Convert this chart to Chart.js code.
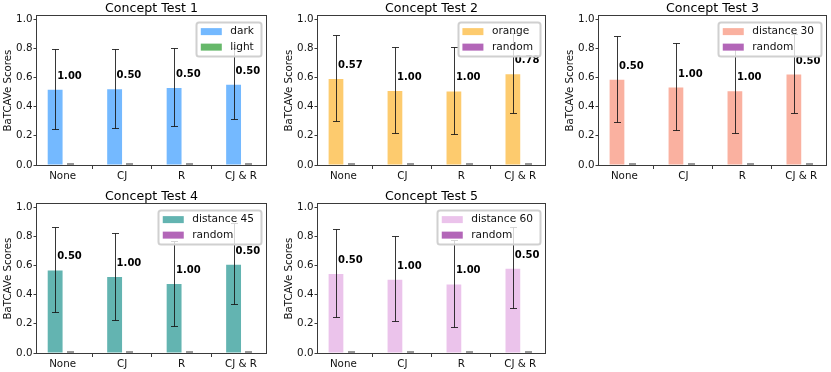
<!DOCTYPE html>
<html>
<head>
<meta charset="utf-8">
<script src="https://cdn.jsdelivr.net/npm/chart.js@4.4.1/dist/chart.umd.min.js"></script>
<style>
body{margin:0;background:#fff;width:831px;height:372px;overflow:hidden;position:relative;}
.panel{position:absolute;}
.panel canvas{display:block;}
</style>
</head>
<body>
<div class="panel" style="left:0px;top:0px"><canvas id="c1" width="270" height="187"></canvas></div>
<div class="panel" style="left:281px;top:0px"><canvas id="c2" width="268" height="187"></canvas></div>
<div class="panel" style="left:562px;top:0px"><canvas id="c3" width="268" height="187"></canvas></div>
<div class="panel" style="left:0px;top:188px"><canvas id="c4" width="270" height="187"></canvas></div>
<div class="panel" style="left:281px;top:188px"><canvas id="c5" width="268" height="187"></canvas></div>
<script>
// categories and ticks
var cats = ['None', 'CJ', 'R', 'CJ & R'];
var yTicks = [0, 0.2, 0.4, 0.6, 0.8, 1.0];
var yMax = 1.02;

// Concept Test 1
var t1Names = ['dark', 'light'];
var t1Mean = [0.515, 0.519, 0.528, 0.549];
var t1Err = [0.272, 0.270, 0.268, 0.244];
var t1Other = [0, 0, 0, 0];
var t1Acc = [1.00, 0.50, 0.50, 0.50];

// Concept Test 2
var t2Names = ['orange', 'random'];
var t2Mean = [0.589, 0.507, 0.504, 0.622];
var t2Err = [0.296, 0.293, 0.300, 0.276];
var t2Other = [0, 0, 0, 0];
var t2Acc = [0.57, 1.00, 1.00, 0.78];

// Concept Test 3
var t3Names = ['distance 30', 'random'];
var t3Mean = [0.584, 0.531, 0.506, 0.620];
var t3Err = [0.296, 0.299, 0.295, 0.272];
var t3Other = [0, 0, 0, 0];
var t3Acc = [0.50, 1.00, 1.00, 0.50];

// Concept Test 4
var t4Names = ['distance 45', 'random'];
var t4Mean = [0.566, 0.520, 0.472, 0.605];
var t4Err = [0.292, 0.298, 0.291, 0.278];
var t4Other = [0, 0, 0, 0];
var t4Acc = [0.50, 1.00, 1.00, 0.50];

// Concept Test 5
var t5Names = ['distance 60', 'random'];
var t5Mean = [0.541, 0.502, 0.470, 0.578];
var t5Err = [0.300, 0.293, 0.297, 0.279];
var t5Other = [0, 0, 0, 0];
var t5Acc = [0.50, 1.00, 1.00, 0.50];

var FONT = "'DejaVu Sans', sans-serif";
var INK = '#111';
var SPINE = '#3a3a3a';

// error bars, value labels, frame and legend
var extras = {
    id: 'extras',
    afterDraw: function (chart, args, opts) {
        var ctx = chart.ctx, a = chart.chartArea, ys = chart.scales.y;
        ctx.save();
        // frame
        ctx.strokeStyle = SPINE;
        ctx.lineWidth = 1;
        ctx.strokeRect(Math.round(a.left) - 0.5, Math.round(a.top) - 0.5,
            Math.round(a.right - a.left) + 1, Math.round(a.bottom - a.top) + 1);
        // error bars
        chart.data.datasets.forEach(function (ds, di) {
            var meta = chart.getDatasetMeta(di);
            var errs = opts.errs[di];
            ctx.strokeStyle = opts.errColors[di];
            ctx.lineWidth = opts.errWidths[di];
            meta.data.forEach(function (bar, i) {
                var m = ds.data[i].y, e = errs[i];
                var x = Math.round(bar.x) + 0.5;
                var top = Math.round(ys.getPixelForValue(m + e)) - 0.5;
                var bot = Math.round(ys.getPixelForValue(m - e)) - 0.5;
                if (e === 0) { top -= 0.5; bot -= 0.5; }
                ctx.beginPath();
                ctx.moveTo(x, top); ctx.lineTo(x, bot);
                ctx.moveTo(x - 3.5, top); ctx.lineTo(x + 3.5, top);
                ctx.moveTo(x - 3.5, bot); ctx.lineTo(x + 3.5, bot);
                ctx.stroke();
            });
        });
        // accuracy labels
        var meta0 = chart.getDatasetMeta(0);
        ctx.fillStyle = '#000';
        ctx.font = 'bold 10px ' + FONT;
        ctx.textAlign = 'left';
        ctx.textBaseline = 'middle';
        meta0.data.forEach(function (bar, i) {
            var m = chart.data.datasets[0].data[i].y;
            ctx.fillText(opts.acc[i].toFixed(2), bar.x + 2, ys.getPixelForValue(m + 0.093));
        });
        // legend
        ctx.font = '10.6px ' + FONT;
        var tw = 0;
        chart.data.datasets.forEach(function (ds) {
            tw = Math.max(tw, ctx.measureText(ds.label).width);
        });
        var w = 4.5 + 21 + 8.5 + tw + 7, h = 34;
        var lx = a.right - 5 - w, ly = a.top + 6;
        ctx.beginPath();
        ctx.roundRect(Math.round(lx) + 0.5, Math.round(ly) + 0.5, Math.round(w), h, 2.5);
        ctx.fillStyle = 'rgba(255,255,255,0.8)';
        ctx.fill();
        ctx.strokeStyle = '#d0d0d0';
        ctx.stroke();
        chart.data.datasets.forEach(function (ds, di) {
            var cy = ly + 9.5 + di * 15.5;
            ctx.fillStyle = ds.backgroundColor;
            ctx.fillRect(lx + 4.5, cy - 3.5, 21, 7);
            ctx.fillStyle = INK;
            ctx.textAlign = 'left';
            ctx.textBaseline = 'middle';
            ctx.fillText(ds.label, lx + 4.5 + 21 + 8.5, cy);
        });
        ctx.restore();
    }
};

function makeChart(id, title, names, colors, mean, err, other, acc) {
    var ctx = document.getElementById(id).getContext('2d');
    return new Chart(ctx, {
        type: 'bar',
        data: {
            datasets: [
                {
                    label: names[0],
                    backgroundColor: colors[0],
                    data: mean.map(function (v, i) { return {x: i, y: v}; }),
                    categoryPercentage: 0.5,
                    barPercentage: 1.0
                },
                {
                    label: names[1],
                    backgroundColor: colors[1],
                    data: other.map(function (v, i) { return {x: i, y: v}; }),
                    categoryPercentage: 0.5,
                    barPercentage: 1.0
                }
            ]
        },
        options: {
            responsive: false,
            animation: false,
            layout: {padding: {left: 0, right: 4, top: 0, bottom: 0}},
            plugins: {
                legend: {display: false},
                tooltip: {enabled: false},
                title: {
                    display: true,
                    text: title,
                    fullSize: false,
                    color: '#000',
                    font: {family: FONT, size: 12.6, weight: 'normal', lineHeight: 1.2},
                    padding: {top: 1, bottom: 0}
                },
                extras: {
                    errs: [err, other],
                    errColors: ['rgba(20,20,20,0.85)', 'rgba(140,140,140,0.9)'],
                    errWidths: [1, 2],
                    acc: acc
                }
            },
            scales: {
                x: {
                    type: 'linear',
                    min: -0.43,
                    max: 3.42,
                    offset: false,
                    afterBuildTicks: function (s) {
                        s.ticks = cats.map(function (c, i) { return {value: i}; });
                    },
                    afterFit: function (s) { s.height = 22; },
                    grid: {drawOnChartArea: false, drawTicks: true, tickLength: 4, tickColor: SPINE},
                    border: {display: false},
                    ticks: {
                        color: INK,
                        padding: 1,
                        maxRotation: 0,
                        autoSkip: false,
                        font: {family: FONT, size: 10.3},
                        callback: function (v) { return cats[v]; }
                    }
                },
                y: {
                    min: 0,
                    max: yMax,
                    afterBuildTicks: function (s) {
                        s.ticks = yTicks.map(function (v) { return {value: v}; });
                    },
                    afterFit: function (s) { s.width = 37; },
                    grid: {drawOnChartArea: false, drawTicks: true, tickLength: 3.5, tickColor: SPINE},
                    border: {display: false},
                    ticks: {
                        color: INK,
                        padding: 1,
                        font: {family: FONT, size: 10.3},
                        callback: function (v) { return v.toFixed(1); }
                    },
                    title: {
                        display: true,
                        text: 'BaTCAVe Scores',
                        color: INK,
                        font: {family: FONT, size: 10.2},
                        padding: {top: 2, bottom: 0}
                    }
                }
            }
        },
        plugins: [extras]
    });
}

makeChart('c1', 'Concept Test 1', t1Names, ['#74b9ff', '#66b86a'], t1Mean, t1Err, t1Other, t1Acc);
makeChart('c2', 'Concept Test 2', t2Names, ['#fdcb6e', '#b366b8'], t2Mean, t2Err, t2Other, t2Acc);
makeChart('c3', 'Concept Test 3', t3Names, ['#fab1a0', '#b366b8'], t3Mean, t3Err, t3Other, t3Acc);
makeChart('c4', 'Concept Test 4', t4Names, ['#63b4b1', '#b366b8'], t4Mean, t4Err, t4Other, t4Acc);
makeChart('c5', 'Concept Test 5', t5Names, ['#ebc3eb', '#b366b8'], t5Mean, t5Err, t5Other, t5Acc);
</script>
</body>
</html>
